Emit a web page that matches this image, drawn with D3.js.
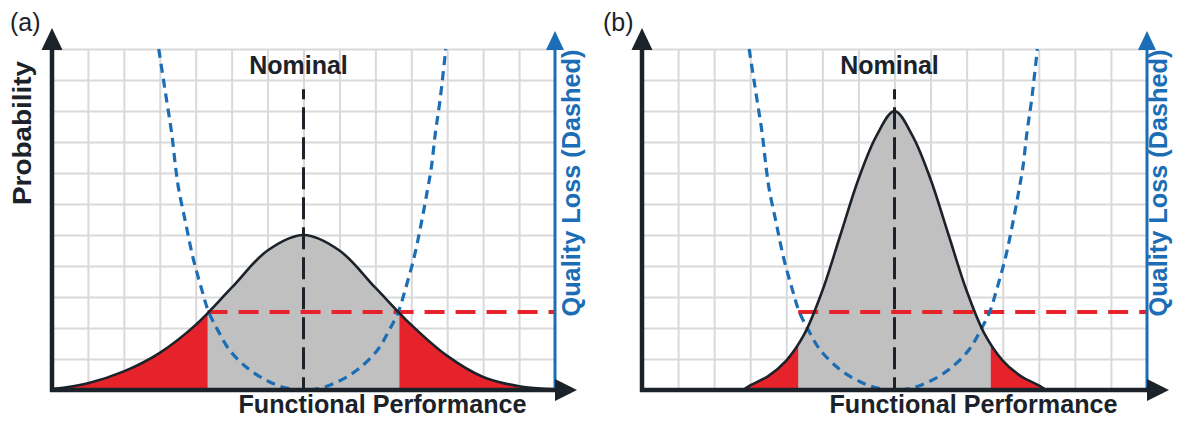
<!DOCTYPE html>
<html>
<head>
<meta charset="utf-8">
<script src="https://cdn.jsdelivr.net/npm/d3@7"></script>
<style>
  body { margin: 0; background: #fff; }
  text { font-family: "Liberation Sans", Arial, sans-serif; }
</style>
</head>
<body>
<div id="chart"></div>
<script>
// chart is drawn in grid units: 14 columns by 11 rows, nominal at column 7
const gridCols = d3.range(1, 14)
const gridRows = d3.range(1, 12)
const nominal = 7
const specLimits = [4.33, 9.67]
const lossLimit = 2.52
const nominalTop = 9.7

// probability curve (a), wide spread
const probAX = [0, 1, 2, 3, 4, 5, 6, 7, 8, 9, 10, 11, 12, 13, 14]
const probAY = [0.03, 0.22, 0.6, 1.2, 2.1, 3.3, 4.5, 5.0, 4.5, 3.3, 2.1, 1.1, 0.42, 0.12, 0.02]

// probability curve (b), narrow spread
const probBX = [2.8, 3, 3.5, 4, 4.5, 5, 5.5, 6, 6.5, 7, 7.5, 8, 8.5, 9, 9.5, 10, 10.5, 11, 11.2]
const probBY = [0, 0.15, 0.45, 0.95, 1.8, 3.2, 5.0, 6.8, 8.2, 9.0, 8.2, 6.8, 5.0, 3.2, 1.8, 0.95, 0.45, 0.15, 0]

// quality loss curve (same in both panels)
const lossX = [2.97, 3.19, 3.33, 3.44, 3.53, 3.72, 3.92, 4.17, 4.36, 4.61, 4.94, 5.5, 6.06, 6.53, 7,
               7.47, 7.94, 8.5, 9.06, 9.39, 9.64, 9.83, 10.08, 10.28, 10.45, 10.56, 10.67, 10.8, 10.96]
const lossY = [11, 9.35, 8.29, 7.19, 6.45, 5.39, 4.29, 3.23, 2.52, 1.94, 1.29, 0.65, 0.26, 0.06, 0,
               0.06, 0.26, 0.65, 1.29, 1.94, 2.52, 3.23, 4.29, 5.39, 6.45, 7.19, 8.29, 9.35, 11]

const panels = [
  {label: '(a)', labelX: 10, left: 52, right: 555, px: probAX, py: probAY, yTitle: true, qlX: 580},
  {label: '(b)', labelX: 603, left: 642, right: 1147, px: probBX, py: probBY, yTitle: false, qlX: 1167}
]

const width = 1179, height = 421
const black = '#1b2229', blue = '#1b6db5', red = '#e6232a', grey = '#c0c0c0'

const svg = d3.select('#chart')
  .append('svg')
    .attr('width', width)
    .attr('height', height)

svg.append('rect').attr('width', width).attr('height', height).attr('fill', '#fff')

panels.forEach(function(p, i) {
  const x = d3.scaleLinear().domain([0, 14]).range([p.left, p.right])
  const y = d3.scaleLinear().domain([0, 11]).range([390, 49])
  const g = svg.append('g')

  // grid
  g.append('g')
    .attr('transform', `translate(0, ${y(0)})`)
    .call(d3.axisBottom(x).tickValues(gridCols).tickSize(-(y(0) - y(11))).tickFormat(''))
    .call(s => s.select('.domain').remove())
    .selectAll('line').attr('stroke', '#d9d9d9').attr('stroke-width', 2)
  g.append('g')
    .attr('transform', `translate(${x(0)}, 0)`)
    .call(d3.axisLeft(y).tickValues(gridRows).tickSize(-(x(14) - x(0))).tickFormat(''))
    .call(s => s.select('.domain').remove())
    .selectAll('line').attr('stroke', '#d9d9d9').attr('stroke-width', 2)

  const pts = p.px.map((v, k) => [v, p.py[k]])
  const area = d3.area()
    .x(d => x(d[0]))
    .y0(y(0))
    .y1(d => y(Math.max(0, d[1])))
    .curve(d3.curveCatmullRom)

  // red tails, grey middle
  g.append('path').attr('d', area(pts)).attr('fill', red)
  const clipId = 'mid' + i
  g.append('clipPath').attr('id', clipId)
    .append('rect')
      .attr('x', x(specLimits[0]))
      .attr('y', 0)
      .attr('width', x(specLimits[1]) - x(specLimits[0]))
      .attr('height', height)
  g.append('path').attr('d', area(pts)).attr('fill', grey).attr('clip-path', `url(#${clipId})`)

  // loss limit (red dashed)
  g.append('line')
    .attr('x1', x(specLimits[0])).attr('x2', x(14))
    .attr('y1', y(lossLimit)).attr('y2', y(lossLimit))
    .attr('stroke', red).attr('stroke-width', 4)
    .attr('stroke-dasharray', '20,11')

  // quality loss (blue dashed)
  const lossPts = lossX.map((v, k) => [v, lossY[k]])
  g.append('path')
    .attr('d', d3.line().x(d => x(d[0])).y(d => y(d[1])).curve(d3.curveCatmullRom)(lossPts))
    .attr('fill', 'none')
    .attr('stroke', blue).attr('stroke-width', 3.2)
    .attr('stroke-dasharray', '9,6')

  // probability outline
  g.append('path')
    .attr('d', d3.line().x(d => x(d[0])).y(d => y(Math.max(0, d[1]))).curve(d3.curveCatmullRom)(pts))
    .attr('fill', 'none')
    .attr('stroke', black).attr('stroke-width', 2.6)

  // nominal
  g.append('line')
    .attr('x1', x(nominal)).attr('x2', x(nominal))
    .attr('y1', y(nominalTop)).attr('y2', y(0))
    .attr('stroke', black).attr('stroke-width', 3)
    .attr('stroke-dasharray', '22,8').attr('stroke-dashoffset', 12)
  g.append('text')
    .attr('x', x(nominal) - 5).attr('y', 74)
    .attr('text-anchor', 'middle')
    .attr('font-size', '25px').attr('font-weight', 'bold')
    .attr('fill', black)
    .text('Nominal')

  // blue axis
  g.append('line')
    .attr('x1', x(14)).attr('x2', x(14))
    .attr('y1', y(0)).attr('y2', y(11))
    .attr('stroke', blue).attr('stroke-width', 3)
  g.append('path')
    .attr('d', `M${x(14) - 9},${y(11) + 1}L${x(14) + 9},${y(11) + 1}L${x(14)},${y(11) - 18}Z`)
    .attr('fill', blue)

  // black axes
  g.append('line')
    .attr('x1', x(0)).attr('x2', x(0))
    .attr('y1', y(0) + 2).attr('y2', y(11))
    .attr('stroke', black).attr('stroke-width', 4.5)
  g.append('path')
    .attr('d', `M${x(0) - 10.5},${y(11) + 1}L${x(0) + 10.5},${y(11) + 1}L${x(0)},${y(11) - 21}Z`)
    .attr('fill', black)
  g.append('line')
    .attr('x1', x(0) - 2).attr('x2', x(14))
    .attr('y1', y(0)).attr('y2', y(0))
    .attr('stroke', black).attr('stroke-width', 4.5)
  g.append('path')
    .attr('d', `M${x(14)},${y(0) - 11}L${x(14)},${y(0) + 11}L${x(14) + 22},${y(0)}Z`)
    .attr('fill', black)

  // titles
  g.append('text')
    .attr('x', p.labelX).attr('y', 31)
    .attr('font-size', '25px').attr('fill', black)
    .text(p.label)
  g.append('text')
    .attr('x', x(nominal) + 79).attr('y', 413)
    .attr('text-anchor', 'middle')
    .attr('font-size', '25px').attr('font-weight', 'bold')
    .attr('fill', black)
    .attr('textLength', 288).attr('lengthAdjust', 'spacingAndGlyphs')
    .text('Functional Performance')
  g.append('text')
    .attr('transform', `translate(${p.qlX}, 183) rotate(-90)`)
    .attr('text-anchor', 'middle')
    .attr('font-size', '25px').attr('font-weight', 'bold')
    .attr('fill', blue)
    .attr('textLength', 267).attr('lengthAdjust', 'spacingAndGlyphs')
    .text('Quality Loss (Dashed)')
  if (p.yTitle) {
    g.append('text')
      .attr('transform', 'translate(31, 133) rotate(-90)')
      .attr('text-anchor', 'middle')
      .attr('font-size', '25px').attr('font-weight', 'bold')
      .attr('fill', black)
      .attr('textLength', 144).attr('lengthAdjust', 'spacingAndGlyphs')
      .text('Probability')
  }
})
</script>
</body>
</html>
